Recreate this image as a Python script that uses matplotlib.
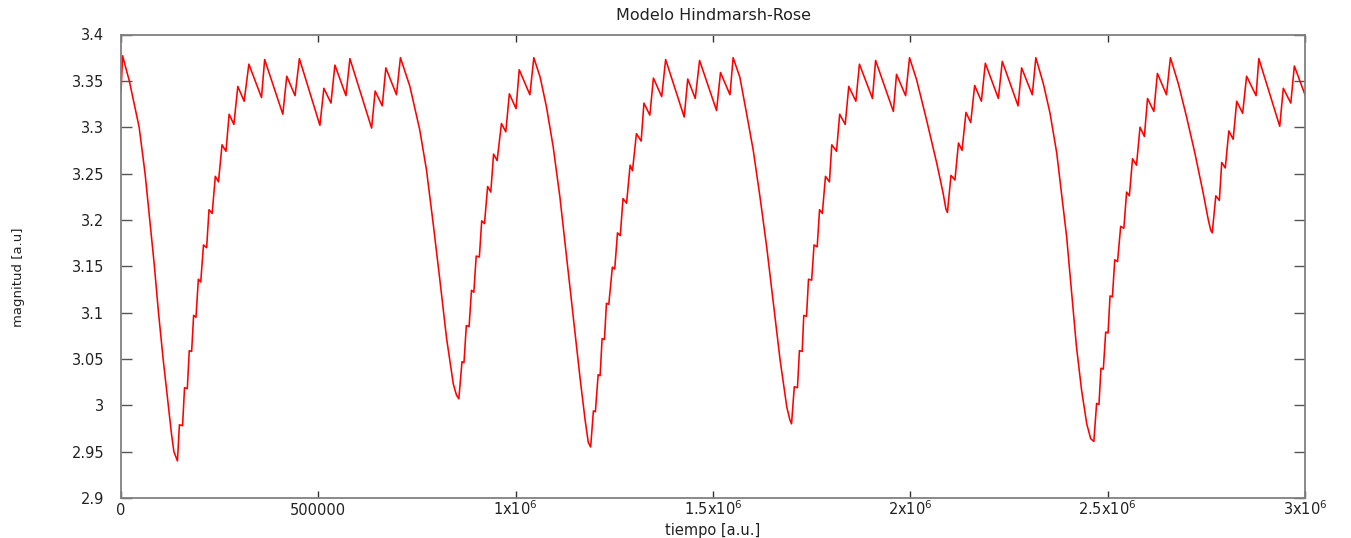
import matplotlib
matplotlib.use("Agg")
import matplotlib.pyplot as plt

# variable lenta z del modelo Hindmarsh-Rose
# (picos y valles de cada rafaga)
tiempo = [
    0, 4000, 21000, 46000, 61000, 73000, 84000, 95000, 107000, 120000,
    128000, 134000, 143000, 148000, 156000, 161000, 168000, 173000, 179000,
    184000, 190000, 196000, 202000, 209000, 217000, 223000, 231000, 239000,
    247000, 256000, 266000, 274000, 286000, 296000, 312000, 324000, 356000,
    364000, 410000, 420000, 441000, 452000, 504000, 514000, 532000, 542000,
    570000, 580000, 635000, 644000, 662000, 671000, 698000, 708000,
    # ciclo 2
    732000, 757000, 774000, 791000, 808000, 825000, 842000, 850000, 856000,
    864000, 869000, 875000, 882000, 888000, 894000, 900000, 908000, 914000,
    921000, 929000, 937000, 944000, 953000, 964000, 975000, 984000, 1001000,
    1009000, 1036000, 1046000,
    # ciclo 3
    1062000, 1078000, 1095000, 1112000, 1129000, 1146000, 1163000, 1176000,
    1184000, 1190000, 1197000, 1202000, 1209000, 1214000, 1219000, 1225000,
    1230000, 1236000, 1245000, 1251000, 1258000, 1265000, 1272000, 1281000,
    1290000, 1296000, 1306000, 1318000, 1325000, 1340000, 1349000, 1370000,
    1380000, 1427000, 1436000, 1455000, 1466000, 1509000, 1519000, 1543000,
    1551000,
    # ciclo 4
    1568000, 1585000, 1602000, 1619000, 1636000, 1653000, 1670000, 1687000,
    1695000, 1699000, 1706000, 1714000, 1719000, 1726000, 1730000, 1737000,
    1742000, 1750000, 1756000, 1764000, 1770000, 1777000, 1785000, 1795000,
    1801000, 1813000, 1821000, 1835000, 1844000, 1862000, 1871000, 1904000,
    1912000, 1957000, 1965000, 1988000, 1998000,
    # ciclo 5 (corto)
    2016000, 2041000, 2067000, 2083000, 2090000, 2094000, 2103000, 2113000,
    2122000, 2131000, 2141000, 2153000, 2163000, 2180000, 2190000, 2223000,
    2233000, 2273000, 2282000, 2309000, 2318000,
    # ciclo 6
    2337000, 2354000, 2371000, 2383000, 2396000, 2409000, 2421000, 2434000,
    2447000, 2457000, 2465000, 2472000, 2478000, 2483000, 2489000, 2495000,
    2501000, 2506000, 2512000, 2518000, 2525000, 2533000, 2541000, 2548000,
    2555000, 2563000, 2573000, 2582000, 2593000, 2601000, 2617000, 2626000,
    2649000, 2659000,
    # ciclo 7 (corto)
    2679000, 2700000, 2721000, 2742000, 2755000, 2761000, 2765000, 2774000,
    2783000, 2789000, 2798000, 2807000, 2818000, 2827000, 2842000, 2852000,
    2876000, 2883000, 2936000, 2945000, 2964000, 2973000, 3000000,
]

magnitud = [
    3.338, 3.377, 3.350, 3.300, 3.250, 3.200, 3.153, 3.100, 3.049, 3.000,
    2.969, 2.950, 2.940, 2.979, 2.978, 3.019, 3.018, 3.059, 3.058,
    3.097, 3.095, 3.136, 3.133, 3.173, 3.170, 3.211, 3.207, 3.247,
    3.241, 3.281, 3.274, 3.314, 3.303, 3.344, 3.328, 3.368, 3.332,
    3.373, 3.314, 3.355, 3.334, 3.374, 3.302, 3.342, 3.326, 3.367,
    3.334, 3.374, 3.299, 3.339, 3.323, 3.364, 3.335, 3.375,
    # ciclo 2
    3.344, 3.297, 3.254, 3.196, 3.135, 3.072, 3.023, 3.011, 3.007,
    3.047, 3.046, 3.086, 3.085, 3.124, 3.122, 3.161, 3.160, 3.199,
    3.196, 3.236, 3.230, 3.271, 3.264, 3.304, 3.295, 3.336, 3.320,
    3.362, 3.335, 3.375,
    # ciclo 3
    3.354, 3.322, 3.279, 3.225, 3.160, 3.095, 3.030, 2.984,
    2.960, 2.955, 2.994, 2.993, 3.033, 3.032, 3.072, 3.071,
    3.110, 3.109, 3.149, 3.147, 3.186, 3.183, 3.223, 3.218,
    3.259, 3.253, 3.293, 3.285, 3.326, 3.313, 3.353, 3.333,
    3.373, 3.311, 3.352, 3.331, 3.372, 3.318, 3.359, 3.335,
    3.375,
    # ciclo 4
    3.354, 3.315, 3.275, 3.225, 3.171, 3.110, 3.049, 2.998,
    2.984, 2.980, 3.020, 3.019, 3.059, 3.058, 3.097, 3.096,
    3.136, 3.135, 3.173, 3.171, 3.211, 3.207, 3.247, 3.241,
    3.281, 3.274, 3.314, 3.303, 3.344, 3.328, 3.368, 3.331,
    3.372, 3.317, 3.357, 3.334, 3.375,
    # ciclo 5
    3.351, 3.308, 3.261, 3.229, 3.212, 3.208, 3.248, 3.243,
    3.283, 3.275, 3.316, 3.305, 3.345, 3.328, 3.369, 3.331,
    3.371, 3.323, 3.364, 3.335, 3.375,
    # ciclo 6
    3.347, 3.315, 3.272, 3.229, 3.182, 3.120, 3.063, 3.016,
    2.980, 2.964, 2.961, 3.002, 3.001, 3.040, 3.039, 3.079,
    3.078, 3.118, 3.117, 3.157, 3.155, 3.193, 3.191, 3.230,
    3.226, 3.266, 3.259, 3.300, 3.290, 3.331, 3.317, 3.358,
    3.335, 3.375,
    # ciclo 7
    3.347, 3.311, 3.272, 3.229, 3.200, 3.189, 3.186, 3.226,
    3.221, 3.262, 3.256, 3.296, 3.287, 3.328, 3.315, 3.355,
    3.334, 3.374, 3.301, 3.342, 3.326, 3.366, 3.335,
]

xticks = [0, 500000, 1000000, 1500000, 2000000, 2500000, 3000000]
xticklabels = ["0", "500000", r"1x10$^{6}$", r"1.5x10$^{6}$", r"2x10$^{6}$",
               r"2.5x10$^{6}$", r"3x10$^{6}$"]
yticks = [2.9, 2.95, 3.0, 3.05, 3.1, 3.15, 3.2, 3.25, 3.3, 3.35, 3.4]
yticklabels = ["2.9", "2.95", "3", "3.05", "3.1", "3.15", "3.2", "3.25",
               "3.3", "3.35", "3.4"]

W, H = 1351, 538
fig = plt.figure(figsize=(W / 100, H / 100), dpi=100)
ax = fig.add_axes([121 / W, 1 - 498 / H, (1305 - 121) / W, (498 - 34.5) / H])

ax.plot(tiempo, magnitud, color="#ff0000", lw=1.15)

ax.set_xlim(0, 3000000)
ax.set_ylim(2.9, 3.4)
ax.set_xticks(xticks)
ax.set_xticklabels(xticklabels, fontsize=10.5, color="#222222")
ax.set_yticks(yticks)
ax.set_yticklabels(yticklabels, fontsize=10.5, color="#222222")
# misma linea base para todas las etiquetas del eje x
for lbl in ax.get_xticklabels():
    lbl.set_verticalalignment("baseline")

ax.tick_params(axis="x", direction="in", top=True, length=5, width=1,
               color="#333333", pad=12.5)
ax.tick_params(axis="y", direction="in", right=True, length=8, width=1,
               color="#555555", pad=12)
for s in ax.spines.values():
    s.set_color("#808080")
    s.set_linewidth(1.3)

fig.text(713 / W, 1 - 15 / H, "Modelo Hindmarsh-Rose", ha="center",
         va="center", fontsize=11.5, color="#222222")
fig.text(713 / W, 1 - 531 / H, "tiempo [a.u.]", ha="center", va="center",
         fontsize=10.5, color="#222222")
fig.text(19 / W, 1 - 277 / H, "magnitud [a.u]", ha="center", va="center",
         rotation=90, fontsize=9.5, color="#222222")

fig.savefig("out.png", dpi=100)
